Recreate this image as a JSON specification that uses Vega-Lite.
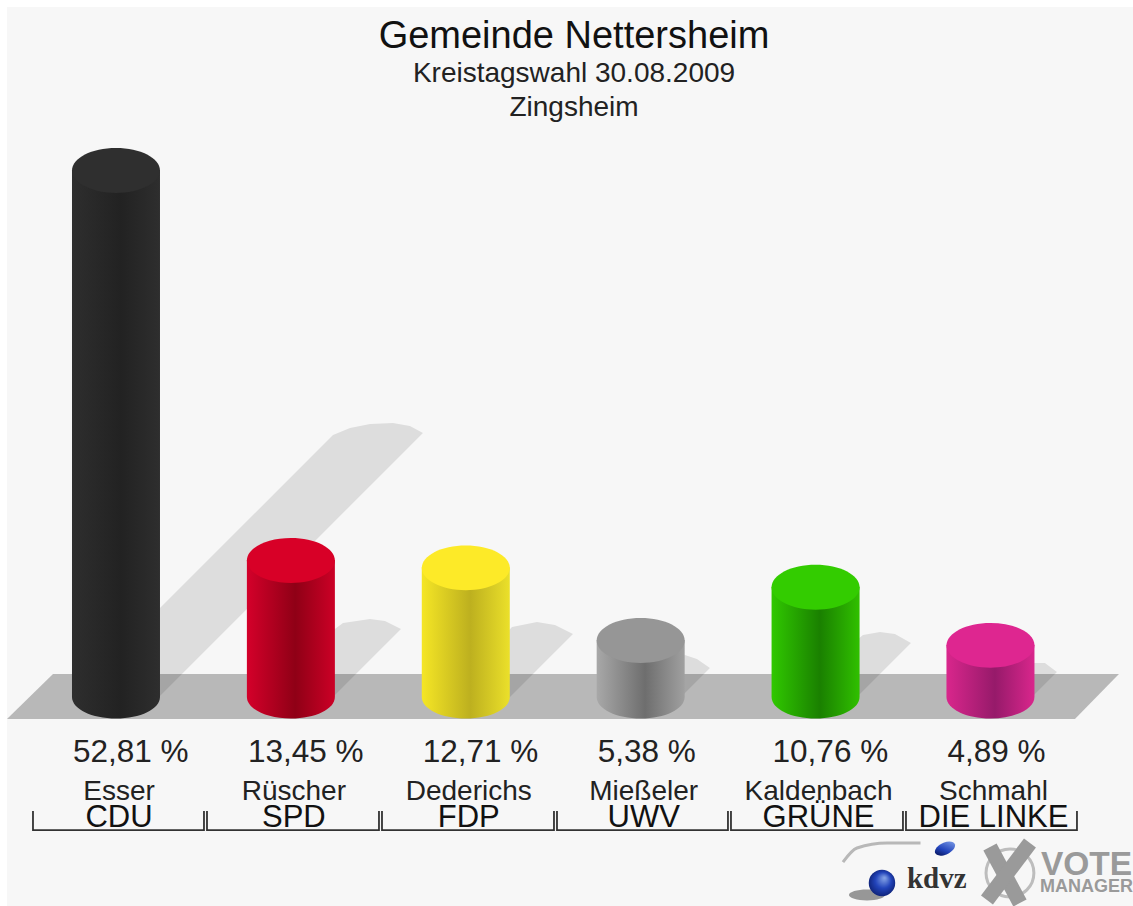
{
"$schema":"https://vega.github.io/schema/vega-lite/v6.json",
"width":1133,"height":906,"padding":0,"autosize":{"type":"none"},
"background":"#ffffff",
"config":{"view":{"stroke":null},"font":"Liberation Sans"},
"title":{"text":"Gemeinde Nettersheim","subtitle":["Kreistagswahl 30.08.2009","Zingsheim"],"anchor":"middle","offset":-122,"dx":7.5,"fontSize":38,"fontWeight":"normal","color":"#111111","subtitleFontSize":28,"subtitleColor":"#222222","subtitleLineHeight":34,"subtitlePadding":4,"font":"Liberation Sans","subtitleFont":"Liberation Sans"},
"data":{"values":[
{"party":"CDU","candidate":"Esser","share":52.81,"label":"52,81 %","pos":1,"base":-0.37},
{"party":"SPD","candidate":"Rüscher","share":13.45,"label":"13,45 %","pos":2,"base":-0.37},
{"party":"FDP","candidate":"Dederichs","share":12.71,"label":"12,71 %","pos":3,"base":-0.37},
{"party":"UWV","candidate":"Mießeler","share":5.38,"label":"5,38 %","pos":4,"base":-0.37},
{"party":"GRÜNE","candidate":"Kaldenbach","share":10.76,"label":"10,76 %","pos":5,"base":-0.37},
{"party":"DIE LINKE","candidate":"Schmahl","share":4.89,"label":"4,89 %","pos":6,"base":-0.37}
]},
"encoding":{
"x":{"field":"pos","type":"quantitative","axis":null,"scale":{"domain":[0.3368,6.815],"nice":false,"zero":false,"padding":0}},
"y":{"field":"share","type":"quantitative","axis":null,"scale":{"domain":[-21.463,69.96],"nice":false,"zero":false,"padding":0}}
},
"layer":[
{"data":{"values":[{"x":0.3768,"x2":6.815,"top":69.253,"bottom":-21.463}]},
 "mark":{"type":"rect","fill":"#f7f7f7"},
 "encoding":{"x":{"field":"x","type":"quantitative"},"x2":{"field":"x2"},"y":{"field":"top","type":"quantitative"},"y2":{"field":"bottom"}}},
{"data":{"values":[{"x":0.3768,"top":-2.594,"bottom":-2.594},{"x":0.6398,"top":1.947,"bottom":-2.594},{"x":6.4831,"top":1.947,"bottom":-2.594},{"x":6.7347,"top":1.947,"bottom":1.947}]},
 "mark":{"type":"area","orient":"vertical","fill":"#b8b8b8","opacity":1},
 "encoding":{"x":{"field":"x","type":"quantitative"},"y":{"field":"top","type":"quantitative","stack":null},"y2":{"field":"bottom"}}},
{"data":{"values":[
{"party":"CDU","x":0.9085,"top":2.55,"bottom":-0.68},{"party":"CDU","x":1.2516,"top":8.60,"bottom":-0.28},{"party":"CDU","x":2.2407,"top":26.06,"bottom":17.18},{"party":"CDU","x":2.3379,"top":26.77,"bottom":18.90},{"party":"CDU","x":2.4523,"top":27.17,"bottom":20.92},{"party":"CDU","x":2.5838,"top":27.27,"bottom":23.24},{"party":"CDU","x":2.681,"top":26.97,"bottom":24.95},{"party":"CDU","x":2.7553,"top":26.26,"bottom":26.26},
{"party":"SPD","x":2.1664,"top":5.38,"bottom":-1.69},{"party":"SPD","x":2.2979,"top":7.09,"bottom":0.63},{"party":"SPD","x":2.4523,"top":7.49,"bottom":3.36},{"party":"SPD","x":2.538,"top":7.29,"bottom":4.87},{"party":"SPD","x":2.6295,"top":6.49,"bottom":6.49},
{"party":"FDP","x":3.1670,"top":4.87,"bottom":-1.89},{"party":"FDP","x":3.2642,"top":6.69,"bottom":-0.17},{"party":"FDP","x":3.4071,"top":7.19,"bottom":2.35},{"party":"FDP","x":3.5101,"top":6.89,"bottom":4.16},{"party":"FDP","x":3.6130,"top":5.98,"bottom":5.98},
{"party":"UWV","x":4.1675,"top":3.36,"bottom":-1.49},{"party":"UWV","x":4.2533,"top":3.86,"bottom":0.03},{"party":"UWV","x":4.3219,"top":3.46,"bottom":1.24},{"party":"UWV","x":4.3962,"top":2.55,"bottom":2.55},
{"party":"GRÜNE","x":5.1681,"top":4.37,"bottom":-1.59},{"party":"GRÜNE","x":5.2710,"top":5.88,"bottom":0.23},{"party":"GRÜNE","x":5.3682,"top":6.18,"bottom":1.94},{"party":"GRÜNE","x":5.4540,"top":5.98,"bottom":3.46},{"party":"GRÜNE","x":5.5454,"top":5.07,"bottom":5.07},
{"party":"DIE LINKE","x":6.1687,"top":2.35,"bottom":-1.59},{"party":"DIE LINKE","x":6.2487,"top":3.05,"bottom":-0.17},{"party":"DIE LINKE","x":6.3116,"top":3.05,"bottom":0.94},{"party":"DIE LINKE","x":6.3802,"top":2.15,"bottom":2.15}
]},
 "mark":{"type":"area","orient":"vertical","fill":"#000000","opacity":0.1},
 "encoding":{"x":{"field":"x","type":"quantitative"},"y":{"field":"top","type":"quantitative","stack":null},"y2":{"field":"bottom"},"detail":{"field":"party"}}},
{"transform":[{"filter":"datum.party==='CDU'"}],
 "encoding":{"fill":{"value":{"gradient":"linear","x1":0,"y1":0,"x2":1,"y2":0,"stops":[{"offset":0,"color":"#2e2e2e"},{"offset":0.55,"color":"#222222"},{"offset":1,"color":"#2e2e2e"}]}}},
 "layer":[{"mark":{"type":"bar","size":88,"orient":"vertical"},"encoding":{"y2":{"field":"base"}}},
  {"mark":{"type":"point","filled":true,"opacity":1,"size":7744,"shape":"M-1,0A1,0.49,0,0,0,1,0Z"},"encoding":{"y":{"field":"base","type":"quantitative"}}}]},
{"transform":[{"filter":"datum.party==='SPD'"}],
 "encoding":{"fill":{"value":{"gradient":"linear","x1":0,"y1":0,"x2":1,"y2":0,"stops":[{"offset":0,"color":"#d4002a"},{"offset":0.55,"color":"#8f0016"},{"offset":1,"color":"#cc0026"}]}}},
 "layer":[{"mark":{"type":"bar","size":88,"orient":"vertical"},"encoding":{"y2":{"field":"base"}}},
  {"mark":{"type":"point","filled":true,"opacity":1,"size":7744,"shape":"M-1,0A1,0.49,0,0,0,1,0Z"},"encoding":{"y":{"field":"base","type":"quantitative"}}}]},
{"transform":[{"filter":"datum.party==='FDP'"}],
 "encoding":{"fill":{"value":{"gradient":"linear","x1":0,"y1":0,"x2":1,"y2":0,"stops":[{"offset":0,"color":"#f5e625"},{"offset":0.55,"color":"#bdb01f"},{"offset":1,"color":"#ebe02a"}]}}},
 "layer":[{"mark":{"type":"bar","size":88,"orient":"vertical"},"encoding":{"y2":{"field":"base"}}},
  {"mark":{"type":"point","filled":true,"opacity":1,"size":7744,"shape":"M-1,0A1,0.49,0,0,0,1,0Z"},"encoding":{"y":{"field":"base","type":"quantitative"}}}]},
{"transform":[{"filter":"datum.party==='UWV'"}],
 "encoding":{"fill":{"value":{"gradient":"linear","x1":0,"y1":0,"x2":1,"y2":0,"stops":[{"offset":0,"color":"#a8a8a8"},{"offset":0.55,"color":"#6e6e6e"},{"offset":1,"color":"#a0a0a0"}]}}},
 "layer":[{"mark":{"type":"bar","size":88,"orient":"vertical"},"encoding":{"y2":{"field":"base"}}},
  {"mark":{"type":"point","filled":true,"opacity":1,"size":7744,"shape":"M-1,0A1,0.49,0,0,0,1,0Z"},"encoding":{"y":{"field":"base","type":"quantitative"}}}]},
{"transform":[{"filter":"datum.party==='GRÜNE'"}],
 "encoding":{"fill":{"value":{"gradient":"linear","x1":0,"y1":0,"x2":1,"y2":0,"stops":[{"offset":0,"color":"#30c800"},{"offset":0.55,"color":"#1a8000"},{"offset":1,"color":"#30c000"}]}}},
 "layer":[{"mark":{"type":"bar","size":88,"orient":"vertical"},"encoding":{"y2":{"field":"base"}}},
  {"mark":{"type":"point","filled":true,"opacity":1,"size":7744,"shape":"M-1,0A1,0.49,0,0,0,1,0Z"},"encoding":{"y":{"field":"base","type":"quantitative"}}}]},
{"transform":[{"filter":"datum.party==='DIE LINKE'"}],
 "encoding":{"fill":{"value":{"gradient":"linear","x1":0,"y1":0,"x2":1,"y2":0,"stops":[{"offset":0,"color":"#d9268c"},{"offset":0.55,"color":"#961a6a"},{"offset":1,"color":"#d9268c"}]}}},
 "layer":[{"mark":{"type":"bar","size":88,"orient":"vertical"},"encoding":{"y2":{"field":"base"}}},
  {"mark":{"type":"point","filled":true,"opacity":1,"size":7744,"shape":"M-1,0A1,0.49,0,0,0,1,0Z"},"encoding":{"y":{"field":"base","type":"quantitative"}}}]},
{"mark":{"type":"point","filled":true,"opacity":1,"size":7744,"shape":"M-1,0.012A1,0.51,0,1,1,1,0.012A1,0.51,0,1,1,-1,0.012Z"},
 "encoding":{"fill":{"field":"party","type":"nominal","legend":null,"scale":{"domain":["CDU","SPD","FDP","UWV","GRÜNE","DIE LINKE"],"range":["#2f2f2f","#d80027","#fdea28","#969696","#33cc00","#de2690"]}}}},
{"mark":{"type":"text","align":"left","baseline":"alphabetic","dx":-43,"fontSize":31.5,"color":"#222222"},
 "encoding":{"y":{"datum":-6.94},"text":{"field":"label"}}},
{"mark":{"type":"text","align":"center","baseline":"alphabetic","dx":3,"fontSize":28,"color":"#222222"},
 "encoding":{"y":{"datum":-10.8},"text":{"field":"candidate"}}},
{"data":{"values":[
{"party":"CDU","x":0.5254,"y":-11.88,"o":1},{"party":"CDU","x":0.5254,"y":-13.80,"o":2},{"party":"CDU","x":1.5031,"y":-13.80,"o":3},{"party":"CDU","x":1.5031,"y":-11.88,"o":4},
{"party":"SPD","x":1.5203,"y":-11.88,"o":1},{"party":"SPD","x":1.5203,"y":-13.80,"o":2},{"party":"SPD","x":2.5037,"y":-13.80,"o":3},{"party":"SPD","x":2.5037,"y":-11.88,"o":4},
{"party":"FDP","x":2.5209,"y":-11.88,"o":1},{"party":"FDP","x":2.5209,"y":-13.80,"o":2},{"party":"FDP","x":3.5043,"y":-13.80,"o":3},{"party":"FDP","x":3.5043,"y":-11.88,"o":4},
{"party":"UWV","x":3.5215,"y":-11.88,"o":1},{"party":"UWV","x":3.5215,"y":-13.80,"o":2},{"party":"UWV","x":4.4991,"y":-13.80,"o":3},{"party":"UWV","x":4.4991,"y":-11.88,"o":4},
{"party":"GRÜNE","x":4.5163,"y":-11.88,"o":1},{"party":"GRÜNE","x":4.5163,"y":-13.80,"o":2},{"party":"GRÜNE","x":5.4997,"y":-13.80,"o":3},{"party":"GRÜNE","x":5.4997,"y":-11.88,"o":4},
{"party":"DIE LINKE","x":5.5169,"y":-11.88,"o":1},{"party":"DIE LINKE","x":5.5169,"y":-13.80,"o":2},{"party":"DIE LINKE","x":6.4946,"y":-13.80,"o":3},{"party":"DIE LINKE","x":6.4946,"y":-11.88,"o":4}
]},
 "mark":{"type":"line","stroke":"#333333","strokeWidth":1.8},
 "encoding":{"x":{"field":"x","type":"quantitative"},"y":{"field":"y","type":"quantitative"},"detail":{"field":"party"},"order":{"field":"o"}}},
{"mark":{"type":"text","align":"center","baseline":"alphabetic","dx":3,"fontSize":31,"color":"#111111"},
 "encoding":{"y":{"datum":-13.49},"text":{"field":"party"}}},
{"data":{"values":[{"x":5.1567,"y":-17.03,"o":1},{"x":5.2367,"y":-15.61,"o":2},{"x":5.4083,"y":-15.11,"o":3},{"x":5.6,"y":-15.11,"o":4}]},
 "mark":{"type":"line","stroke":"#b8b8b8","strokeWidth":3,"interpolate":"monotone"},
 "encoding":{"x":{"field":"x","type":"quantitative"},"y":{"field":"y","type":"quantitative"},"order":{"field":"o"}}},
{"data":{"values":[{"x":5.294,"y":-20.35}]},
 "mark":{"type":"point","filled":true,"opacity":0.45,"fill":"#222222","size":1300,"shape":"M-1,0A1,0.3,0,1,1,1,0A1,0.3,0,1,1,-1,0Z"},
 "encoding":{"x":{"field":"x","type":"quantitative"},"y":{"field":"y","type":"quantitative"}}},
{"data":{"values":[{"x":5.3797,"y":-19.14}]},
 "mark":{"type":"point","filled":true,"opacity":1,"size":700,"shape":"circle","fill":{"gradient":"radial","x1":0.6,"y1":0.3,"r1":0,"x2":0.5,"y2":0.5,"r2":0.6,"stops":[{"offset":0,"color":"#8aa8e8"},{"offset":0.5,"color":"#2244bb"},{"offset":1,"color":"#0a1a66"}]}},
 "encoding":{"x":{"field":"x","type":"quantitative"},"y":{"field":"y","type":"quantitative"}}},
{"data":{"values":[{"x":5.74,"y":-15.67}]},
 "mark":{"type":"point","filled":true,"opacity":1,"size":400,"shape":"M-1,0.4A1,0.55,-25,1,1,1,-0.4A1,0.55,-25,1,1,-1,0.4Z","fill":{"gradient":"linear","x1":0.8,"y1":0,"x2":0.2,"y2":1,"stops":[{"offset":0,"color":"#6f8fe0"},{"offset":0.6,"color":"#2244bb"},{"offset":1,"color":"#0a1a66"}]}},
 "encoding":{"x":{"field":"x","type":"quantitative"},"y":{"field":"y","type":"quantitative"}}},
{"data":{"values":[{"x":6.1115,"y":-18.13}]},
 "mark":{"type":"point","filled":false,"opacity":1,"size":2290,"shape":"circle","stroke":"#bdbdbd","strokeWidth":3},
 "encoding":{"x":{"field":"x","type":"quantitative"},"y":{"field":"y","type":"quantitative"}}},
{"data":{"values":[{"stroke":"a","x":5.9972,"y":-15.51,"o":1},{"stroke":"a","x":6.1687,"y":-21.16,"o":2},{"stroke":"b","x":6.2259,"y":-15.11,"o":1},{"stroke":"b","x":5.98,"y":-20.85,"o":2}]},
 "mark":{"type":"line","stroke":"#9a9a9a","strokeWidth":15},
 "encoding":{"x":{"field":"x","type":"quantitative"},"y":{"field":"y","type":"quantitative"},"detail":{"field":"stroke"},"order":{"field":"o"}}},
{"data":{"values":[{"x":5.5225,"y":-19.65,"t":"kdvz"}]},
 "mark":{"type":"text","align":"left","baseline":"alphabetic","font":"Liberation Serif","fontWeight":"bold","fontSize":29,"color":"#333333"},
 "encoding":{"x":{"field":"x","type":"quantitative"},"y":{"field":"y","type":"quantitative"},"text":{"field":"t"}}},
{"data":{"values":[{"x":6.2888,"y":-18.34,"t":"VOTE"}]},
 "mark":{"type":"text","align":"left","baseline":"alphabetic","fontWeight":"bold","fontSize":33.5,"color":"#9a9a9a"},
 "encoding":{"x":{"field":"x","type":"quantitative"},"y":{"field":"y","type":"quantitative"},"text":{"field":"t"}}},
{"data":{"values":[{"x":6.2831,"y":-20.05,"t":"MANAGER"}]},
 "mark":{"type":"text","align":"left","baseline":"alphabetic","fontWeight":"bold","fontSize":18,"color":"#9a9a9a"},
 "encoding":{"x":{"field":"x","type":"quantitative"},"y":{"field":"y","type":"quantitative"},"text":{"field":"t"}}}
]
}
